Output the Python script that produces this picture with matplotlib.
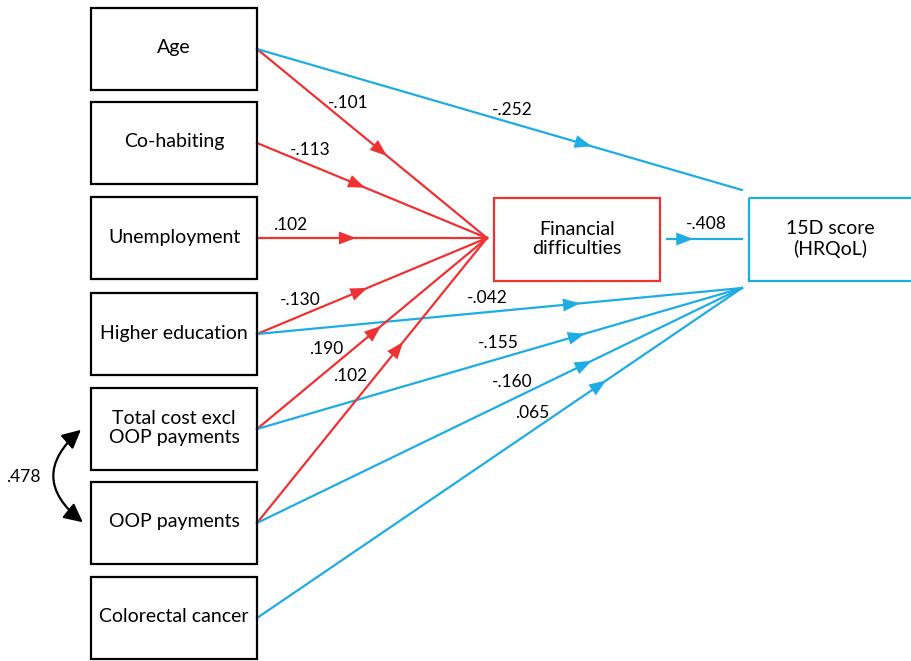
import numpy as np
import matplotlib
matplotlib.use("Agg")
import matplotlib.pyplot as plt
from matplotlib.patches import Rectangle, Polygon, FancyArrowPatch

# Path model data
predictors = ["Age", "Co-habiting", "Unemployment", "Higher education",
              "Total cost excl\nOOP payments", "OOP payments", "Colorectal cancer"]
to_financial = [-.101, -.113, .102, -.130, .190, .102, None]
to_hrqol = [-.252, None, None, -.042, -.155, -.160, .065]
financial_to_hrqol = -.408
covariance = .478
mediator = "Financial\ndifficulties"
outcome = "15D score\n(HRQoL)"

RED = "#EE3131"
BLUE = "#1DADE4"
FONT = "Lato"
BOX_FS = 14
LBL_FS = 12.5

# layout (pixel coordinates)
box_x, box_w, box_h = 91, 166, 82
box_tops = [8, 102, 197, 293, 388, 482, 577]
red_tip = [0.565, 0.47, 0.43, 0.48, 0.54, 0.635, None]
blue_tip = [0.69, None, None, 0.666, 0.676, 0.69, 0.72]
red_lbl = [(348, 103), (310, 150), (290, 225), (300, 300), (326, 349), (350, 376), None]
blue_lbl = [(512, 110), None, None, (487, 298), (498, 343), (512, 382), (532, 413)]
fin_target = (487, 238)
age_hrqol_target = (742, 190)
hrqol_target = (742, 288)


def fmt(v):
    s = "{:.3f}".format(v)
    return s.replace("0.", ".")


def arrowhead(ax, p0, p1, frac, color, length=17, half=6.5):
    p0, p1 = np.array(p0, float), np.array(p1, float)
    d = (p1 - p0) / np.linalg.norm(p1 - p0)
    n = np.array([-d[1], d[0]])
    tip = p0 + frac * (p1 - p0)
    base = tip - length * d
    ax.add_patch(Polygon([tip, base + half * n, base - half * n],
                         closed=True, color=color, lw=0, zorder=4))


fig = plt.figure(figsize=(9.11, 6.61), dpi=100)
ax = fig.add_axes([0, 0, 1, 1])
ax.set_xlim(0, 911)
ax.set_ylim(661, 0)
ax.axis("off")

for i, name in enumerate(predictors):
    top = box_tops[i]
    cy = top + box_h / 2
    ax.add_patch(Rectangle((box_x, top), box_w, box_h, fill=False, ec="black", lw=1.6, zorder=3))
    ax.text(box_x + box_w / 2, cy - 1, name, ha="center", va="center", fontsize=BOX_FS,
            family=FONT, linespacing=1.15, zorder=5)
    start = (box_x + box_w, cy)
    if to_financial[i] is not None:
        ax.plot([start[0], fin_target[0]], [start[1], fin_target[1]], color=RED, lw=1.6, zorder=2)
        arrowhead(ax, start, fin_target, red_tip[i], RED)
        ax.text(*red_lbl[i], fmt(to_financial[i]), ha="center", va="center",
                fontsize=LBL_FS, family=FONT, zorder=5)
    if to_hrqol[i] is not None:
        end = age_hrqol_target if i == 0 else hrqol_target
        ax.plot([start[0], end[0]], [start[1], end[1]], color=BLUE, lw=1.6, zorder=2)
        arrowhead(ax, start, end, blue_tip[i], BLUE)
        ax.text(*blue_lbl[i], fmt(to_hrqol[i]), ha="center", va="center",
                fontsize=LBL_FS, family=FONT, zorder=5)

# mediator and outcome
ax.add_patch(Rectangle((494, 198), 166, 83, fill=False, ec=RED, lw=1.6, zorder=3))
ax.text(577, 239, mediator, ha="center", va="center", fontsize=BOX_FS, family=FONT, linespacing=1.15)
ax.add_patch(Rectangle((749, 198), 200, 83, fill=False, ec=BLUE, lw=1.6, zorder=3))
ax.text(830, 239, outcome, ha="center", va="center", fontsize=BOX_FS, family=FONT, linespacing=1.15)

# mediator -> outcome
ax.plot([667, 742], [239, 239], color=BLUE, lw=1.6, zorder=2)
arrowhead(ax, (667, 239), (742, 239), 0.35, BLUE)
ax.text(706, 224, fmt(financial_to_hrqol), ha="center", va="center", fontsize=LBL_FS, family=FONT)

# covariance between cost variables
cov = FancyArrowPatch((83, 428), (85, 524), connectionstyle="arc3,rad=0.62",
                      arrowstyle="<|-|>,head_length=0.8,head_width=0.4",
                      mutation_scale=14, color="black", lw=1.6, zorder=3)
ax.add_patch(cov)
ax.text(23, 477, fmt(covariance), ha="center", va="center", fontsize=LBL_FS, family=FONT)

fig.savefig("out.png", dpi=100)
